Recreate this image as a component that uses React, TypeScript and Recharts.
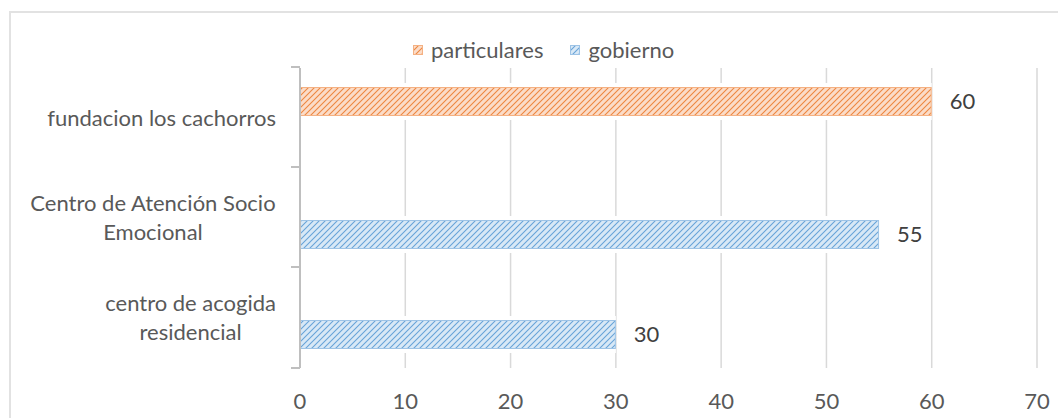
import React from 'react';
import { BarChart, Bar, XAxis, YAxis, CartesianGrid, Legend, LabelList } from 'recharts';

const categories = ['fundacion los cachorros', 'Centro de Atención Socio Emocional', 'centro de acogida residencial'];
const categoryLines = [['fundacion los cachorros'], ['Centro de Atención Socio', 'Emocional'], ['centro de acogida', 'residencial']];
const particulares = [60, null, null];
const gobierno = [null, 55, 30];
const xTicks = [0, 10, 20, 30, 40, 50, 60, 70];

const seriesInfo = [
  { key: 'particulares', name: 'particulares', color: '#ED7D31', light: '#FBDCC8', edge: '#F4B183', pattern: 'hatch-orange' },
  { key: 'gobierno', name: 'gobierno', color: '#5B9BD5', light: '#D8E8F6', edge: '#9DC3E6', pattern: 'hatch-blue' },
];

const FONT = 'Lato, "Open Sans", sans-serif';
const FONT_SIZE = 22;
const TEXT = '#595959';
const AXIS = '#BFBFBF';
const GRID = '#D9D9D9';

const W = 1058;
const H = 418;
const MARGIN = { top: 68, right: 21, bottom: 0, left: 0 };
const Y_AXIS_W = 300;
const X_AXIS_H = 50;
const BAND = (H - MARGIN.top - MARGIN.bottom - X_AXIS_H) / categories.length;

const data = categories.map((name, i) => ({
  name,
  particulares: particulares[i],
  gobierno: gobierno[i],
}));

let measureCtx: CanvasRenderingContext2D | null = null;
const measure = (s: string) => {
  if (!measureCtx) {
    measureCtx = document.createElement('canvas').getContext('2d');
  }
  if (!measureCtx) return s.length * FONT_SIZE * 0.5;
  measureCtx.font = `${FONT_SIZE}px Lato`;
  return measureCtx.measureText(s).width;
};

const CategoryTick = (props: any) => {
  const { x, y, payload } = props;
  const idx = categories.indexOf(payload.value);
  const lines = categoryLines[idx] || [String(payload.value)];
  const blockW = Math.max(...lines.map(measure));
  const cx = x - blockW / 2;
  const lh = 29;
  const y0 = y - ((lines.length - 1) * lh) / 2;
  const axisX = x + 24;
  return (
    <g>
      <line x1={axisX - 9} x2={axisX} y1={y - BAND / 2 - 1} y2={y - BAND / 2 - 1} stroke={AXIS} strokeWidth={2} />
      {idx === categories.length - 1 && (
        <line x1={axisX - 9} x2={axisX} y1={y + BAND / 2} y2={y + BAND / 2} stroke={AXIS} strokeWidth={2} />
      )}
      {lines.map((l, i) => (
        <text key={i} x={cx} y={y0 + i * lh} dy="0.35em" textAnchor="middle" fill={TEXT} fontSize={FONT_SIZE} fontFamily={FONT}>
          {l}
        </text>
      ))}
    </g>
  );
};

const HatchBar = (props: any) => {
  const { x, y, width, height, fill, stroke } = props;
  if (!width || width <= 0) return null;
  return (
    <g>
      <rect x={x} y={y - 4} width={width} height={height + 8} fill="#fff" />
      <rect x={x + 0.5} y={y + 0.5} width={width - 1} height={height - 1} fill={fill} stroke={stroke} strokeWidth={1} />
    </g>
  );
};

const ValueLabel = (props: any) => {
  const { x, y, width, height, value } = props;
  if (value === null || value === undefined) return null;
  return (
    <text x={x + width + 18} y={y + height / 2} dy="0.35em" fill="#404040" fontSize={FONT_SIZE} fontFamily={FONT}>
      {value}
    </text>
  );
};

const LegendContent = () => (
  <div style={{ display: 'flex', alignItems: 'center', fontFamily: FONT, fontSize: FONT_SIZE, color: TEXT, lineHeight: '26px' }}>
    {seriesInfo.map((s, i) => (
      <div key={s.key} style={{ display: 'flex', alignItems: 'center', marginRight: i === 0 ? 27 : 0 }}>
        <svg width={10} height={10} style={{ marginRight: 8 }}>
          <rect x={0.5} y={0.5} width={9} height={9} fill={`url(#${s.pattern})`} stroke={s.edge} />
        </svg>
        <span>{s.name}</span>
      </div>
    ))}
  </div>
);

export default function App() {
  return (
    <div style={{ position: 'fixed', left: 0, top: 0, width: W, height: H, overflow: 'hidden', background: '#fff' }}>
      <div
        style={{
          position: 'absolute',
          left: 9,
          top: 11,
          width: W + 40,
          height: H + 40,
          border: '2px solid #E2E2E2',
          boxSizing: 'border-box',
        }}
      />
      <div style={{ position: 'absolute', left: 0, top: 0 }}>
        <BarChart width={W} height={H} data={data} layout="vertical" margin={MARGIN} barSize={29} barGap={4}>
          <defs>
            {seriesInfo.map((s) => (
              <pattern key={s.pattern} id={s.pattern} patternUnits="userSpaceOnUse" width={6} height={6}>
                <rect width={6} height={6} fill={s.light} />
                <path d="M-1,1 l2,-2 M0,6 l6,-6 M5,7 l2,-2" stroke={s.color} strokeWidth={1.1} strokeOpacity={0.9} />
              </pattern>
            ))}
          </defs>
          <CartesianGrid horizontal={false} stroke={GRID} strokeWidth={1.5} />
          <XAxis
            type="number"
            domain={[0, 70]}
            ticks={xTicks}
            interval={0}
            axisLine={false}
            tickLine={false}
            tickSize={0}
            tickMargin={25}
            height={X_AXIS_H}
            tick={{ fill: TEXT, fontSize: FONT_SIZE, fontFamily: FONT }}
          />
          <YAxis
            type="category"
            dataKey="name"
            width={Y_AXIS_W}
            axisLine={{ stroke: AXIS, strokeWidth: 2 }}
            tickLine={false}
            tickSize={0}
            tickMargin={24}
            interval={0}
            tick={<CategoryTick />}
          />
          <Legend
            layout="horizontal"
            verticalAlign="middle"
            align="center"
            content={<LegendContent />}
            wrapperStyle={{ top: 37, left: 413, width: 'auto' }}
          />
          {seriesInfo.map((s) => (
            <Bar
              key={s.key}
              dataKey={s.key}
              name={s.name}
              fill={`url(#${s.pattern})`}
              stroke={s.edge}
              shape={<HatchBar />}
              isAnimationActive={false}
            >
              <LabelList dataKey={s.key} content={<ValueLabel />} />
            </Bar>
          ))}
        </BarChart>
      </div>
    </div>
  );
}
